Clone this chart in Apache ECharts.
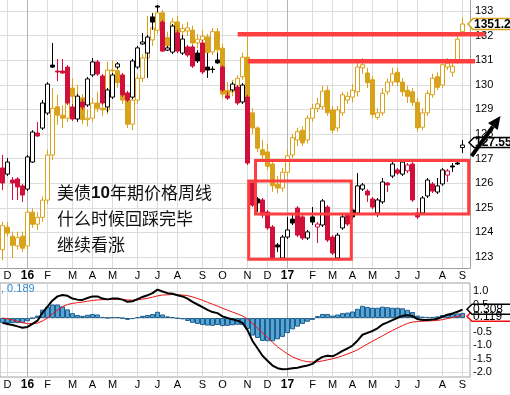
<!DOCTYPE html>
<html><head><meta charset="utf-8">
<script src="https://cdn.jsdelivr.net/npm/echarts@6/dist/echarts.min.js"></script>
<style>html,body{margin:0;padding:0;background:#fff}#c{width:510px;height:395px}</style>
</head><body><div id="c"></div>
<script>
// ---- categories: weekly bars (Monday of each week) ----
const weeks = ['2015-11-30','2015-12-07','2015-12-14','2015-12-21','2015-12-28',
'2016-01-04','2016-01-11','2016-01-18','2016-01-25','2016-02-01','2016-02-08','2016-02-15','2016-02-22','2016-02-29',
'2016-03-07','2016-03-14','2016-03-21','2016-03-28','2016-04-04','2016-04-11','2016-04-18','2016-04-25',
'2016-05-02','2016-05-09','2016-05-16','2016-05-23','2016-05-30','2016-06-06','2016-06-13','2016-06-20','2016-06-27',
'2016-07-04','2016-07-11','2016-07-18','2016-07-25','2016-08-01','2016-08-08','2016-08-15','2016-08-22','2016-08-29',
'2016-09-05','2016-09-12','2016-09-19','2016-09-26','2016-10-03','2016-10-10','2016-10-17','2016-10-24','2016-10-31',
'2016-11-07','2016-11-14','2016-11-21','2016-11-28','2016-12-05','2016-12-12','2016-12-19','2016-12-26',
'2017-01-02','2017-01-09','2017-01-16','2017-01-23','2017-01-30','2017-02-06','2017-02-13','2017-02-20','2017-02-27',
'2017-03-06','2017-03-13','2017-03-20','2017-03-27','2017-04-03','2017-04-10','2017-04-17','2017-04-24',
'2017-05-01','2017-05-08','2017-05-15','2017-05-22','2017-05-29','2017-06-05','2017-06-12','2017-06-19','2017-06-26',
'2017-07-03','2017-07-10','2017-07-17','2017-07-24','2017-07-31','2017-08-07','2017-08-14','2017-08-21','2017-08-28',
'2017-09-04','2017-09-11'];
const monthLetters = ['J','F','M','A','M','J','J','A','S','O','N','D'];
const priceTicks = {min:123, max:133, step:1};
const macdTicks = {min:-2, max:1, step:0.5};

// ---- 10-year T-note futures, weekly [open, close, low, high] ----
const tnote = [
[126.62,126.01,125.72,127.15],[126.37,126.86,126.29,127.02],[126.13,126.01,125.32,126.25],[126.17,125.85,125.32,126.25],
[125.89,125.52,125.24,125.97],[125.76,127.07,125.68,127.15],[126.86,128.08,126.82,128.16],[128.04,127.92,127.88,128.49],
[128.24,129.26,128.16,129.38],[128.85,130.03,128.77,130.11],[130.80,130.72,130.68,131.70],[130.56,130.52,130.15,131.05],
[130.56,130.48,130.44,131.05],[130.72,129.26,129.18,130.80],[129.10,128.61,128.53,129.22],[128.61,129.54,128.49,129.63],
[129.30,129.10,128.98,129.42],[129.18,130.24,129.10,130.32],[130.40,130.93,130.32,131.09],[130.93,130.44,130.36,131.01],
[130.36,129.26,129.18,130.44],[129.10,129.79,128.89,129.87],[129.50,130.40,129.42,130.48],[130.72,130.85,130.64,130.93],
[130.40,129.59,129.50,130.48],[129.67,129.38,129.30,129.75],[129.50,130.97,129.42,131.05],[130.72,131.50,130.64,131.58],
[131.66,131.74,131.62,132.11],[131.29,131.94,130.28,132.02],[132.76,132.55,132.23,132.92],[133.20,133.16,132.96,133.24],
[132.55,131.37,131.33,132.63],[131.41,131.50,131.37,131.58],[131.33,132.39,131.25,132.47],[132.11,131.37,131.29,132.23],
[131.29,131.86,131.21,132.02],[131.54,131.21,131.13,131.62],[131.54,130.76,130.68,131.62],[131.29,130.97,130.89,131.41],
[131.70,130.52,130.44,131.82],[130.72,130.60,130.28,131.29],[130.64,130.62,130.48,130.76],[131.01,130.89,130.85,131.29],
[130.72,129.79,129.71,130.80],[129.54,129.46,129.38,129.71],[129.79,130.03,129.71,130.11],[129.91,129.26,129.18,129.99],
[129.30,129.99,129.22,130.07],[129.50,126.82,126.74,129.59],[126.01,125.11,125.03,126.13],[125.36,125.20,124.83,125.44],
[125.32,124.71,124.59,125.40],[124.83,124.18,124.10,124.91],[124.22,122.96,122.92,124.30],[123.49,123.41,123.20,123.57],
[122.96,123.81,122.88,123.89],[123.81,124.10,123.73,124.63],[124.54,124.38,124.30,124.71],[124.99,123.89,123.81,125.07],
[124.63,123.77,123.69,124.71],[123.77,124.02,123.69,124.10],[124.63,124.42,124.30,125.03],[124.22,124.34,123.57,124.42],
[124.30,125.28,124.22,125.36],[125.03,123.69,123.61,125.11],[123.81,123.16,123.08,123.89],[122.96,123.89,122.88,123.98],
[124.18,124.63,124.10,124.71],[124.71,124.34,124.26,124.79],[124.91,124.63,124.54,124.99],[124.79,125.89,124.71,126.41],
[125.76,125.93,125.68,126.01],[125.68,125.52,125.24,125.76],[125.36,125.03,124.95,125.44],[124.79,125.32,124.63,125.40],
[125.24,126.05,125.16,126.21],[126.01,125.93,125.64,126.05],[126.29,126.78,126.21,126.86],[126.54,126.41,126.33,126.62],
[126.37,126.86,126.29,126.94],[126.50,126.74,126.41,126.82],[126.78,125.32,125.24,126.86],[124.79,124.63,124.54,124.99],
[124.79,125.40,124.71,125.48],[125.48,126.13,125.40,126.21],[125.97,125.68,125.60,126.05],[125.64,125.89,125.56,126.21],
[125.97,126.54,125.89,126.62],[126.33,126.50,126.05,126.58],[126.70,126.66,126.46,126.82],[126.82,126.78,126.74,126.94],
[127.45,127.55,127.23,127.76]];

// ---- gold overlay, weekly [open, close, low, high] ----
const gold = [
[1051,1083,1037,1088],[1081,1073,1069,1088],[1069,1057,1040,1075],[1056,1067,1051,1075],[1069,1053,1048,1075],
[1056,1101,1051,1106],[1101,1085,1080,1106],[1085,1094,1077,1101],[1094,1117,1088,1122],[1117,1177,1112,1184],
[1177,1239,1170,1266],[1241,1230,1217,1257],[1230,1226,1213,1243],[1226,1266,1221,1277],[1266,1255,1245,1279],
[1255,1253,1237,1270],[1253,1224,1218,1258],[1224,1226,1215,1237],[1226,1246,1221,1253],[1246,1239,1234,1261],
[1239,1237,1229,1250],[1237,1290,1231,1301],[1290,1289,1277,1303],[1289,1273,1266,1295],[1273,1250,1245,1279],
[1250,1218,1213,1255],[1218,1250,1210,1255],[1250,1279,1245,1285],[1279,1306,1274,1311],[1306,1330,1295,1362],
[1330,1346,1322,1354],[1343,1366,1338,1375],[1366,1330,1325,1370],[1333,1322,1317,1341],[1322,1354,1317,1359],
[1354,1339,1335,1362],[1341,1345,1333,1351],[1342,1346,1335,1354],[1343,1326,1322,1349],[1326,1331,1319,1338],
[1330,1335,1325,1343],[1334,1313,1309,1338],[1314,1341,1310,1346],[1341,1317,1311,1346],[1319,1258,1253,1325],
[1263,1255,1250,1274],[1261,1269,1255,1277],[1269,1279,1263,1283],[1281,1307,1277,1313],[1307,1234,1226,1335],
[1233,1213,1205,1239],[1213,1186,1181,1215],[1184,1177,1170,1197],[1181,1162,1157,1192],[1165,1136,1128,1170],
[1138,1133,1126,1149],[1133,1154,1128,1160],[1154,1176,1149,1184],[1177,1200,1173,1205],[1197,1208,1189,1213],
[1210,1193,1189,1215],[1197,1226,1192,1230],[1226,1239,1221,1245],[1239,1245,1234,1253],[1241,1262,1237,1269],
[1263,1233,1229,1269],[1237,1210,1205,1242],[1213,1237,1208,1242],[1233,1257,1229,1261],[1250,1255,1245,1261],
[1254,1263,1247,1271],[1261,1294,1255,1303],[1293,1297,1285,1306],[1286,1273,1266,1293],[1277,1231,1226,1282],
[1227,1233,1224,1239],[1233,1259,1229,1266],[1261,1274,1257,1279],[1274,1285,1269,1293],[1287,1274,1269,1293],
[1274,1261,1255,1279],[1263,1255,1246,1269],[1261,1247,1242,1266],[1247,1213,1208,1253],[1214,1233,1210,1239],
[1233,1259,1229,1263],[1257,1279,1253,1285],[1281,1267,1263,1287],[1270,1297,1266,1301],[1294,1299,1290,1306],
[1287,1295,1281,1303],[1303,1331,1298,1338],[1341,1351.2,1338,1360]];
const goldRange = {min:1026.7, max:1383.1};

// ---- MACD(12,26,9) panel ----
const macdLine = [-0.18,-0.22,-0.26,-0.31,-0.36,-0.33,-0.22,-0.10,0.20,0.42,
 0.65,0.80,0.85,0.82,0.72,0.68,0.67,0.74,0.80,0.80,
 0.72,0.69,0.72,0.72,0.68,0.60,0.62,0.70,0.78,0.84,
 0.92,1.05,0.98,0.92,0.90,0.84,0.80,0.72,0.60,0.50,
 0.40,0.30,0.22,0.18,0.06,0.00,-0.05,-0.10,-0.18,-0.45,
 -0.85,-1.12,-1.40,-1.58,-1.76,-1.86,-1.90,-1.89,-1.86,-1.84,
 -1.80,-1.76,-1.70,-1.55,-1.44,-1.40,-1.42,-1.33,-1.22,-1.13,
 -1.02,-0.84,-0.62,-0.55,-0.48,-0.38,-0.24,-0.16,-0.08,0.01,
 0.08,0.10,0.07,-0.04,-0.07,-0.07,-0.06,-0.03,0.05,0.12,
 0.17,0.23,0.308];
const signalLine = [0.00,-0.03,-0.07,-0.12,-0.17,-0.21,-0.21,-0.19,-0.11,0.00,
 0.15,0.30,0.42,0.50,0.54,0.57,0.59,0.62,0.65,0.67,
 0.68,0.68,0.69,0.69,0.69,0.67,0.66,0.67,0.70,0.73,
 0.77,0.82,0.85,0.86,0.87,0.86,0.85,0.83,0.78,0.72,
 0.66,0.58,0.51,0.44,0.36,0.29,0.22,0.15,0.08,-0.04,
 -0.20,-0.38,-0.55,-0.72,-0.90,-1.07,-1.20,-1.33,-1.44,-1.52,
 -1.58,-1.62,-1.63,-1.62,-1.59,-1.55,-1.51,-1.46,-1.40,-1.33,
 -1.26,-1.18,-1.07,-0.96,-0.86,-0.76,-0.66,-0.56,-0.46,-0.37,
 -0.28,-0.20,-0.15,-0.13,-0.12,-0.11,-0.10,-0.09,-0.06,-0.02,
 0.02,0.06,0.119];
const histogram = [-0.18,-0.19,-0.19,-0.19,-0.19,-0.12,-0.01,0.09,0.31,0.42,
 0.50,0.50,0.43,0.32,0.18,0.11,0.08,0.12,0.15,0.13,
 0.04,0.01,0.03,0.03,-0.01,-0.07,-0.04,0.03,0.08,0.11,
 0.15,0.23,0.13,0.06,0.03,-0.02,-0.05,-0.11,-0.18,-0.22,
 -0.26,-0.28,-0.29,-0.26,-0.30,-0.29,-0.27,-0.25,-0.26,-0.41,
 -0.65,-0.74,-0.85,-0.86,-0.86,-0.79,-0.70,-0.56,-0.42,-0.32,
 -0.22,-0.14,-0.07,0.07,0.15,0.15,0.09,0.13,0.18,0.20,
 0.24,0.34,0.45,0.41,0.38,0.38,0.42,0.40,0.38,0.38,
 0.36,0.30,0.22,0.09,0.05,0.04,0.04,0.06,0.11,0.14,
 0.15,0.17,0.189];

// ---- annotations (data space: week index, price) ----
const boxes = [{from:50.6,to:93.24,top:126.92,bottom:124.75},{from:49.24,to:69.76,top:126.09,bottom:122.91}];
const levels = [{from:47.04,to:96.5,price:132.05},{from:49.04,to:94.5,price:130.96}];
const noteLines = ['美债{b|10}年期价格周线','什么时候回踩完毕','继续看涨'];

// ---- styling ----
const RED = '#d0103a', BLACK = '#000', GOLD = '#d9a21b', ANNO = '#ff3f3f';
const GRIDC = '#dcdcdc', YEARC = '#b4b4b4', FRAME = '#a0a0a0';
const FONT = '"Liberation Sans", Arial, sans-serif';

const mon = i => weeks[i].slice(5,7);
const isMonthStart = i => i > 0 && mon(i) !== mon(i-1);
const isYearStart = i => isMonthStart(i) && mon(i) === '01';
const monthLabel = i => { const m = +mon(i); return m === 1 ? '{y|' + weeks[i].slice(2,4) + '}' : monthLetters[m-1]; };

const tnoteItems = tnote.map((d,i) => {
  const prev = i > 0 ? tnote[i-1][1] : d[0];
  const col = d[1] >= prev ? BLACK : RED;
  const up = d[1] > d[0];
  return {value:d, itemStyle:{color: up ? '#fff' : col, color0: up ? '#fff' : col, borderColor: col, borderColor0: col}};
});

function xAxisMain(grid, withLabels) {
  return {gridIndex:grid, type:'category', data:weeks, boundaryGap:true,
    axisLine:{show:false}, axisTick:{show:false},
    axisLabel:{show:withLabels, interval:(i)=>isMonthStart(i), formatter:(v,i)=>monthLabel(i),
      margin:2, fontSize:11, color:'#000', fontFamily:FONT,
      rich:{y:{fontSize:12, fontWeight:'bold', color:'#000', fontFamily:FONT}}},
    splitLine:{show:true, interval:(i)=>isMonthStart(i) && !isYearStart(i), alignWithLabel:true, lineStyle:{color:GRIDC, width:1}}};
}
function xAxisYear(grid) {
  return {gridIndex:grid, type:'category', data:weeks, boundaryGap:true, position:'top',
    axisLine:{show:false}, axisTick:{show:false}, axisLabel:{show:false},
    splitLine:{show:true, interval:(i)=>isYearStart(i), alignWithLabel:true, lineStyle:{color:YEARC, width:1}}};
}
function xAxisHidden(grid) {
  return {gridIndex:grid, type:'category', data:weeks, boundaryGap:true, show:false};
}

const chart = echarts.init(document.getElementById('c'));
chart.setOption({
  animation:false,
  backgroundColor:'#fff',
  grid:[
    {left:0, top:0, width:470, height:268},
    {left:0, top:11, width:470, height:246},
    {left:0, top:283, width:470, height:94, show:true, borderColor:FRAME, borderWidth:1, backgroundColor:'transparent'},
    {left:0, top:291, width:470, height:81}
  ],
  xAxis:[
    Object.assign(xAxisMain(0, true), {axisLine:{show:true, lineStyle:{color:FRAME}}}),
    xAxisYear(0),
    xAxisHidden(1),
    xAxisMain(2, true),
    xAxisYear(2),
    xAxisHidden(3)
  ],
  yAxis:[
    {gridIndex:0, type:'value', min:goldRange.min, max:goldRange.max, position:'right',
      axisLine:{show:true, lineStyle:{color:FRAME}}, axisTick:{show:false}, axisLabel:{show:false}, splitLine:{show:false}},
    {gridIndex:1, type:'value', min:priceTicks.min, max:priceTicks.max, interval:priceTicks.step, position:'right',
      axisLine:{show:false}, axisTick:{show:false},
      axisLabel:{margin:5, fontSize:11, color:'#000', fontFamily:FONT},
      splitLine:{show:true, lineStyle:{color:GRIDC}}},
    {gridIndex:2, type:'value', show:false, min:-2.2, max:1.3},
    {gridIndex:3, type:'value', min:macdTicks.min, max:macdTicks.max, interval:macdTicks.step, position:'right',
      axisLine:{show:false}, axisTick:{show:false},
      axisLabel:{margin:3, fontSize:11, color:'#000', fontFamily:FONT, formatter:v=>v.toFixed(1)},
      splitLine:{show:true, lineStyle:{color:GRIDC}}}
  ],
  series:[
    {type:'candlestick', name:'Gold', xAxisIndex:0, yAxisIndex:0, data:gold, barWidth:4, z:2,
      itemStyle:{color:'#fff', color0:GOLD, borderColor:GOLD, borderColor0:GOLD, borderWidth:1}},
    {type:'candlestick', name:'TY', xAxisIndex:2, yAxisIndex:1, data:tnoteItems, barWidth:4, z:3, clip:false,
      itemStyle:{borderWidth:1}},
    {type:'bar', name:'Hist', xAxisIndex:5, yAxisIndex:3, data:histogram, barCategoryGap:'0%', z:2,
      itemStyle:{color:'#55a6d6', borderColor:'#1f5f8e', borderWidth:1}},
    {type:'line', name:'Signal', xAxisIndex:5, yAxisIndex:3, data:signalLine, showSymbol:false, clip:false, z:3,
      lineStyle:{color:'#f01010', width:1}},
    {type:'line', name:'MACD', xAxisIndex:5, yAxisIndex:3, data:macdLine, showSymbol:false, clip:false, z:4,
      lineStyle:{color:'#000', width:2}}
  ]
});

// ---- annotation overlay positioned through the axes ----
const x0 = chart.convertToPixel({xAxisIndex:2}, 0);
const step = chart.convertToPixel({xAxisIndex:2}, 1) - x0;
const px = i => x0 + step * i;
const py = v => chart.convertToPixel({yAxisIndex:1}, v);
const pg = v => chart.convertToPixel({yAxisIndex:0}, v);
const pm = v => chart.convertToPixel({yAxisIndex:3}, v);

const g = [];
levels.forEach(l => {
  g.push({type:'line', z:50, shape:{x1:px(l.from), y1:py(l.price), x2:px(l.to), y2:py(l.price)}, style:{stroke:ANNO, lineWidth:4.5}});
});
boxes.forEach(b => {
  g.push({type:'rect', z:50, shape:{x:px(b.from), y:py(b.top), width:px(b.to)-px(b.from), height:py(b.bottom)-py(b.top)},
    style:{fill:'none', stroke:ANNO, lineWidth:3}});
});
noteLines.forEach((t,k) => {
  g.push({type:'text', z:60, x:57, y:193 + k*26, style:{text:t, fill:'#111', font:'17px "Noto Sans CJK SC"',
    verticalAlign:'middle', rich:{b:{font:'bold 17px "Liberation Sans"', fill:'#111'}}}});
});

function tag(yc, label, stroke, bold, h, xl) {
  const l = xl, r = 512, t = yc - h/2, b = yc + h/2;
  g.push({type:'polygon', z:70, shape:{points:[[l,yc],[l+5,t],[r,t],[r,b],[l+5,b]]}, style:{fill:'#fff', stroke:stroke, lineWidth:1.5}});
  g.push({type:'text', z:71, x:l+6, y:yc+0.5, style:{text:label, fill:'#000', font:(bold?'bold ':'')+'12px '+FONT, verticalAlign:'middle'}});
}
const last = tnote.length - 1;
tag(pg(gold[last][1]), gold[last][1].toFixed(2), GOLD, true, 11, 468);
tag(py(tnote[last][1]) - 2.5, tnote[last][1].toFixed(2), '#000', true, 10, 469);

// arrow
const ax = px(last), ay = py(tnote[last][1]);
const tail = [ax + 9, ay + 11], tip = [ax + 38, ay - 29];
const dx = tip[0]-tail[0], dy = tip[1]-tail[1], len = Math.hypot(dx,dy), ux = dx/len, uy = dy/len;
const base = [tip[0]-ux*13, tip[1]-uy*13];
g.push({type:'line', z:80, shape:{x1:tail[0], y1:tail[1], x2:base[0], y2:base[1]}, style:{stroke:'#000', lineWidth:4}});
g.push({type:'polygon', z:80, shape:{points:[tip,[base[0]-uy*6, base[1]+ux*6],[base[0]+uy*6, base[1]-ux*6]]}, style:{fill:'#000'}});

// MACD tags and legend
const sigY = pm(signalLine[last]) + 1.5, macY = pm(macdLine[last]) - 0.5;
tag(sigY, signalLine[last].toFixed(3), '#f01010', false, 10, 467);
tag(macY, macdLine[last].toFixed(3), '#000', false, 10, 467);
g.push({type:'text', z:60, x:1, y:289, style:{text:', ' + histogram[last].toFixed(3), fill:'#2f8fd0', font:'11px '+FONT, verticalAlign:'middle'}});

chart.setOption({graphic:g});
</script>
</body></html>
